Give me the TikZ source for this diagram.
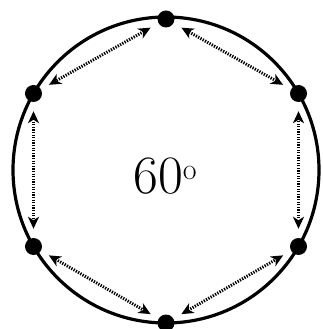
\documentclass[tikz,border=0pt]{standalone}
\usetikzlibrary{arrows.meta}
\tikzset{
    >={Stealth[length=12pt,width=11pt,inset=3.5pt]},
    % Shapes
    ring/.style={line width=3.2pt},
    vertex/.style={circle, fill=black, inner sep=0pt, minimum size=17pt},
    % Flow & Labels
    link/.style={<->, line width=3pt, dash pattern=on 1.3pt off 1.3pt, shorten >=9pt, shorten <=9pt},
    lbl/.style={font=\fontsize{54}{56}\selectfont}
}
\begin{document}
\begin{tikzpicture}[x=1pt, y=1pt]
\useasboundingbox (-166,-159) rectangle (156,170);

\draw[ring] (0,0) circle (153);

\node[vertex] (top) at (90:151) {};
\node[vertex] (ul) at (150:153) {};
\node[vertex] (ll) at (210:153) {};
\node[vertex] (bot) at (270:153) {};
\node[vertex] (lr) at (330:153) {};
\node[vertex] (ur) at (30:153) {};

\node[lbl] (angle) at (-1,-6) {60\raisebox{14pt}{\fontsize{30}{30}\selectfont o}};

\draw[link] (top) -- (ul);
\draw[link] (ul) -- (ll);
\draw[link] (ll) -- (bot);
\draw[link] (bot) -- (lr);
\draw[link] (lr) -- (ur);
\draw[link] (ur) -- (top);

\end{tikzpicture}
\end{document}
